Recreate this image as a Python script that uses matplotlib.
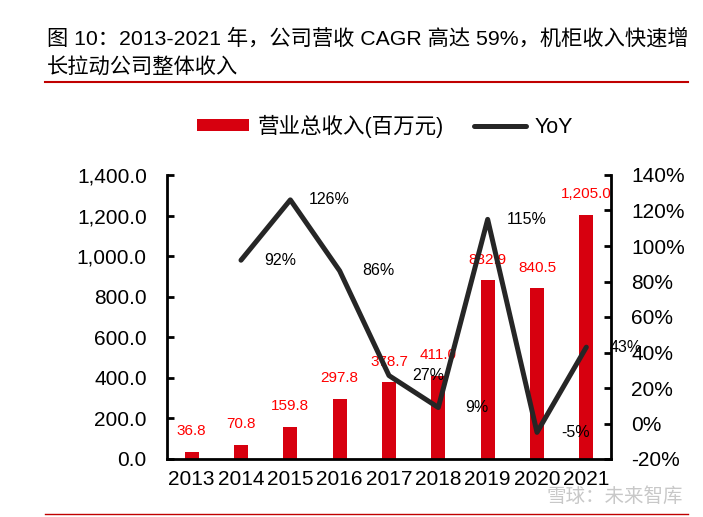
import matplotlib.pyplot as plt
from matplotlib.lines import Line2D
from matplotlib.ticker import FuncFormatter

plt.rcParams['font.family'] = ['Liberation Sans', 'Noto Sans CJK SC', 'DejaVu Sans']

years = ['2013', '2014', '2015', '2016', '2017', '2018', '2019', '2020', '2021']
revenue = [36.8, 70.8, 159.8, 297.8, 378.7, 411.0, 882.9, 840.5, 1205.0]
yoy_years = years[1:]
yoy = [92, 126, 86, 27, 9, 115, -5, 43]

bar_red = '#D7000F'
line_black = '#262626'

fig = plt.figure(figsize=(7.03, 5.17), dpi=100)
ax = fig.add_axes([167 / 703, 58 / 517, 444 / 703, 284 / 517])
ax2 = ax.twinx()

x = list(range(len(years)))
bars = ax.bar(x, revenue, width=0.29, color=bar_red, label='营业总收入(百万元)', zorder=2)
for xi, v in zip(x, revenue):
    ax.annotate(f'{v:,.1f}', (xi, v), xytext=(0, 14.5), textcoords='offset points',
                ha='center', va='center', color='#FF0000', fontsize=11)

xl = x[1:]
ax2.plot(xl, yoy, color=line_black, lw=3.6, solid_capstyle='round', label='YoY', zorder=3)
for xi, v in zip(xl, yoy):
    ax2.text(xi + 0.79, v, f'{v}%', ha='center', va='center', fontsize=11.5, color='black')

ax.set_xlim(-0.5, 8.5)
ax.set_ylim(0, 1400)
ax.set_yticks(range(0, 1401, 200))
ax.yaxis.set_major_formatter(FuncFormatter(lambda v, p: f'{v:,.1f}'))
ax2.set_ylim(-20, 140)
ax2.set_yticks(range(-20, 141, 20))
ax2.yaxis.set_major_formatter(FuncFormatter(lambda v, p: f'{v:.0f}%'))
ax.set_xticks(x)
ax.set_xticklabels(years)

ax.tick_params(axis='x', length=0, labelsize=15, pad=8)
ax.tick_params(axis='y', direction='in', length=5, width=2, labelsize=15, pad=14.5)
ax2.tick_params(axis='y', direction='in', length=5, width=2, labelsize=15, pad=14.5)
for a in (ax, ax2):
    a.spines['top'].set_visible(False)
    for s in ('left', 'right', 'bottom'):
        a.spines[s].set_linewidth(2)
ax.spines['right'].set_visible(False)
ax2.spines['left'].set_visible(False)
ax2.spines['bottom'].set_visible(False)

h1, l1 = ax.get_legend_handles_labels()
h2, l2 = ax2.get_legend_handles_labels()
fig.legend(h1 + h2, l1 + l2, loc='center', bbox_to_anchor=(385 / 703, 1 - 126 / 517),
           ncol=2, frameon=False, fontsize=15.5, handlelength=2.4, handleheight=0.5,
           columnspacing=1.4, handletextpad=0.4)

fig.text(47 / 703, 1 - 38 / 517, '图 10：2013-2021 年，公司营收 CAGR 高达 59%，机柜收入快速增',
         fontsize=15.3, va='center', ha='left')
fig.text(47 / 703, 1 - 68 / 517, '长拉动公司整体收入', fontsize=15.3, va='center', ha='left')

fig.add_artist(Line2D([45 / 703, 688 / 703], [1 - 82 / 517, 1 - 82 / 517], color='#C00000', lw=1.5))
fig.add_artist(Line2D([45 / 703, 688 / 703], [1 - 514 / 517, 1 - 514 / 517], color='#C00000', lw=1))

fig.text(683 / 703, 1 - 496 / 517, '雪球：未来智库', fontsize=14, color='#C8C8C8',
         ha='right', va='center')

fig.savefig('out.png', dpi=100)
